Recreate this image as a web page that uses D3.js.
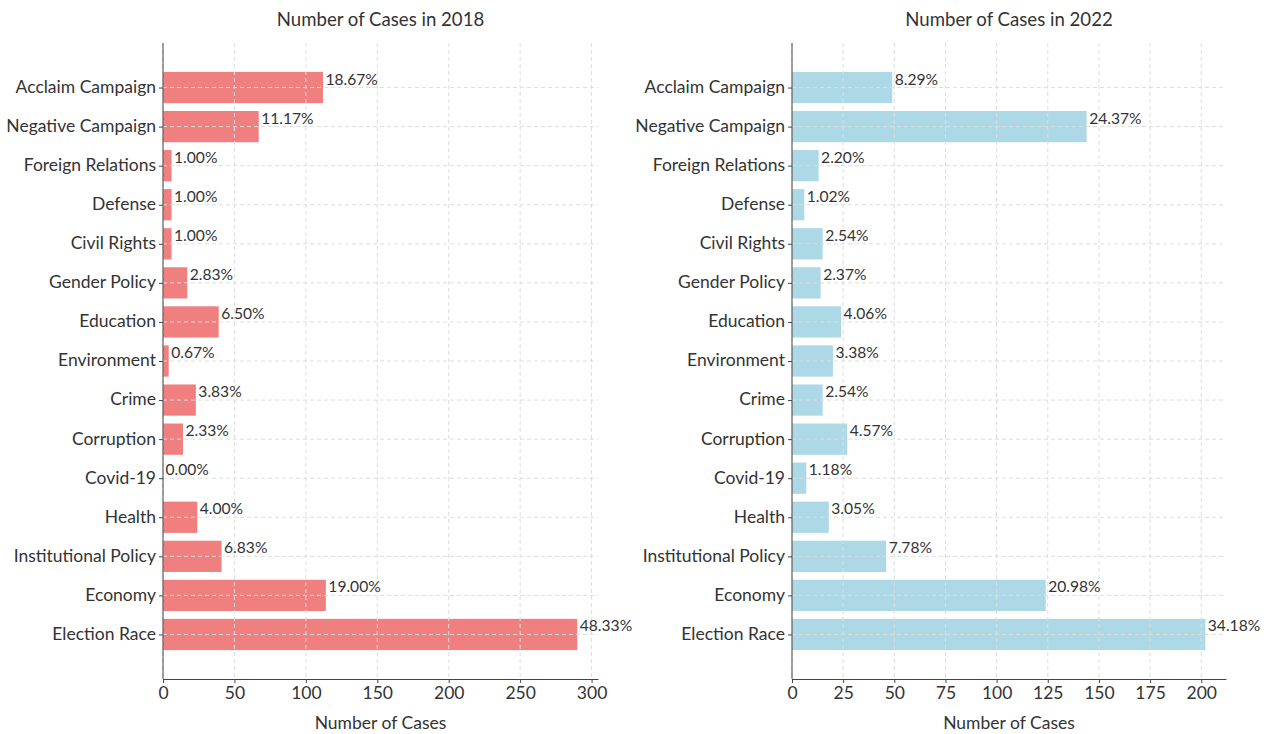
<!DOCTYPE html>
<html lang="en">
<head>
  <meta charset="UTF-8">
  <title>Number of Cases 2018 vs 2022</title>
  <script src="https://d3js.org/d3.v7.min.js"></script>
  <style>
    body { margin: 0; background: #fff; }
    svg text { font-family: Lato, "Open Sans", sans-serif; fill: #333; }
    .grid line { stroke: #ddd; stroke-dasharray: 4 3; stroke-width: 1; }
    .axis path, .axis line { stroke: #444; }
  </style>
</head>
<body>
  <svg id="chart" width="1267" height="734"></svg>
  <script>
    // categories, top to bottom
    const categories = [
      "Acclaim Campaign", "Negative Campaign", "Foreign Relations", "Defense",
      "Civil Rights", "Gender Policy", "Education", "Environment", "Crime",
      "Corruption", "Covid-19", "Health", "Institutional Policy", "Economy",
      "Election Race"
    ];
    const cases2018 = [112, 67, 6, 6, 6, 17, 39, 4, 23, 14, 0, 24, 41, 114, 290];
    const pct2018 = ["18.67%", "11.17%", "1.00%", "1.00%", "1.00%", "2.83%", "6.50%", "0.67%",
                     "3.83%", "2.33%", "0.00%", "4.00%", "6.83%", "19.00%", "48.33%"];
    const cases2022 = [49, 144, 13, 6, 15, 14, 24, 20, 15, 27, 7, 18, 46, 124, 202];
    const pct2022 = ["8.29%", "24.37%", "2.20%", "1.02%", "2.54%", "2.37%", "4.06%", "3.38%",
                     "2.54%", "4.57%", "1.18%", "3.05%", "7.78%", "20.98%", "34.18%"];
    const ticks2018 = [0, 50, 100, 150, 200, 250, 300];
    const ticks2022 = [0, 25, 50, 75, 100, 125, 150, 175, 200];

    const svg = d3.select("#chart");
    const plotTop = 43, plotBottom = 679;

    function panel(opts) {
      const g = svg.append("g");
      const x = d3.scaleLinear()
        .domain([0, d3.max(opts.values) * 1.05])
        .range([opts.left, opts.right]);
      // matplotlib-like barh: index positions with margins
      const n = categories.length;
      const y = d3.scaleLinear()
        .domain([-0.4 - 0.74, n - 1 + 0.4 + 0.74])
        .range([plotTop, plotBottom]);
      const bh = y(0.4) - y(-0.4);

      // bars
      g.selectAll("rect.bar")
        .data(opts.values)
        .enter().append("rect")
        .attr("x", x(0))
        .attr("y", (d, i) => y(i - 0.4))
        .attr("width", d => x(d) - x(0))
        .attr("height", bh)
        .attr("fill", opts.color);

      // grid (over bars)
      const grid = g.append("g").attr("class", "grid");
      grid.selectAll("line.v")
        .data(opts.ticks)
        .enter().append("line")
        .attr("x1", d => x(d)).attr("x2", d => x(d))
        .attr("y1", plotTop).attr("y2", plotBottom);
      grid.selectAll("line.h")
        .data(categories)
        .enter().append("line")
        .attr("x1", opts.left).attr("x2", opts.right)
        .attr("y1", (d, i) => y(i)).attr("y2", (d, i) => y(i));

      // value labels
      g.selectAll("text.val")
        .data(opts.labels)
        .enter().append("text")
        .attr("x", (d, i) => x(opts.values[i]) + 2.5)
        .attr("y", (d, i) => y(i) - 3)
        .attr("font-size", 15.6)
        .text(d => d);

      // y axis
      const yAxis = d3.axisLeft(y)
        .tickValues(d3.range(n))
        .tickFormat(i => categories[i])
        .tickSize(4).tickSizeOuter(0).tickPadding(3);
      const ya = g.append("g").attr("class", "axis")
        .attr("transform", `translate(${opts.left},0)`)
        .call(yAxis);
      ya.select(".domain").attr("d", `M0,${plotTop}V${plotBottom}`);
      ya.selectAll("text").attr("font-size", 17.5).attr("fill", "#333").attr("dy", "0.28em");

      // x axis
      const xAxis = d3.axisBottom(x)
        .tickValues(opts.ticks)
        .tickSize(4).tickSizeOuter(0).tickPadding(4);
      const xa = g.append("g").attr("class", "axis")
        .attr("transform", `translate(0,${plotBottom})`)
        .call(xAxis);
      xa.selectAll("text").attr("font-size", 17.5).attr("fill", "#333");

      // axis title
      g.append("text")
        .attr("x", (opts.left + opts.right) / 2)
        .attr("y", 729)
        .attr("text-anchor", "middle")
        .attr("font-size", 17.5)
        .text("Number of Cases");

      // panel title
      g.append("text")
        .attr("x", (opts.left + opts.right) / 2)
        .attr("y", 26)
        .attr("text-anchor", "middle")
        .attr("font-size", 18.6)
        .text(opts.title);
    }

    panel({ left: 163, right: 598, values: cases2018, labels: pct2018,
            ticks: ticks2018, color: "#f08080", title: "Number of Cases in 2018" });
    panel({ left: 792, right: 1226, values: cases2022, labels: pct2022,
            ticks: ticks2022, color: "#add8e6", title: "Number of Cases in 2022" });
  </script>
</body>
</html>
